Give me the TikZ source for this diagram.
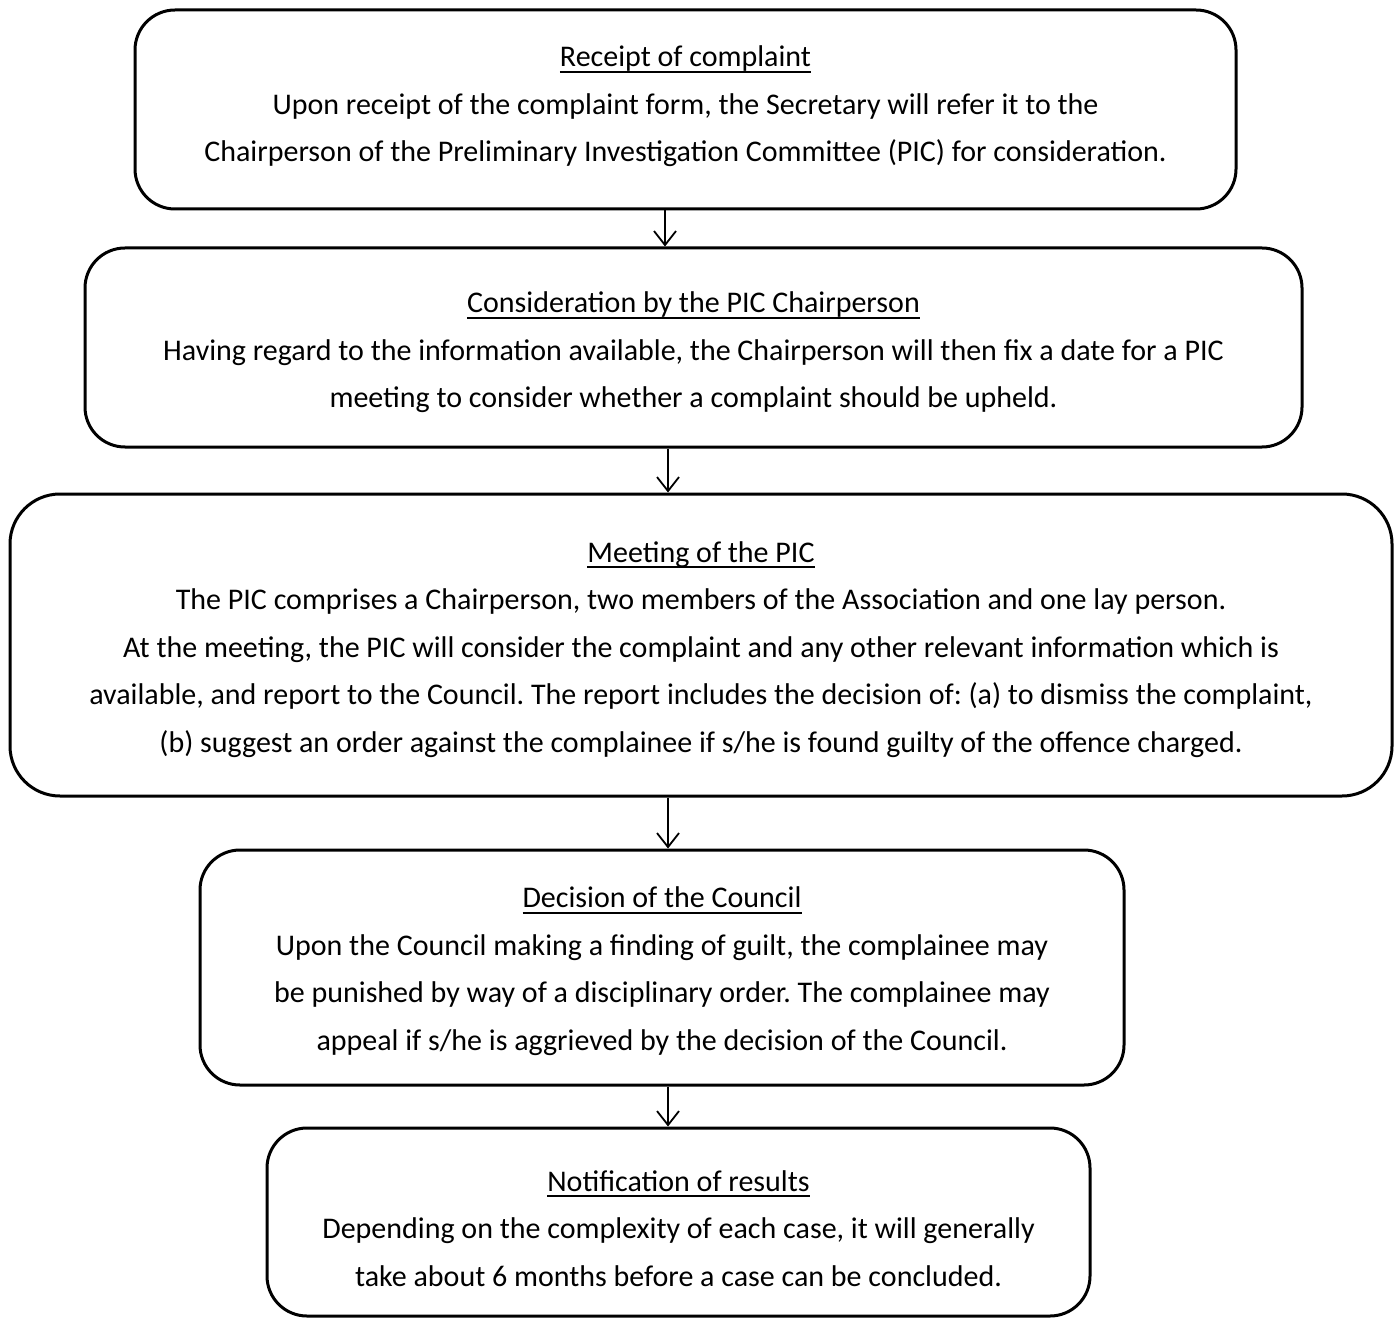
\documentclass[tikz,border=0pt]{standalone}
\usepackage{fontspec}
\setmainfont{Carlito}
\usepackage{tikz}
\usetikzlibrary{arrows.meta}
\frenchspacing

% underlined heading, and struts to move the text inside a box
\newcommand\ultitle[1]{\setbox0=\hbox{#1}\rlap{\rule[-3pt]{\wd0}{0.9pt}}\box0}
\newcommand\topstrut[1]{\rule{0pt}{#1}}
\newcommand\botstrut[1]{\rule[-#1]{0pt}{0pt}}

\tikzset{
    stage/.style={rectangle, draw, line width=1.5pt, rounded corners=20pt,
        align=center, inner sep=0pt,
        font=\fontsize{15}{23.75}\selectfont},
    flow/.style={draw, line width=0.9pt, -{Straight Barb[length=7pt,width=11pt,line width=0.9pt]}}
}

\begin{document}
\begin{tikzpicture}[x=0.5pt, y=-0.5pt]
    \useasboundingbox (0,0) rectangle (1395,1320);

    \node (receipt) [stage, minimum width=550.5pt, minimum height=99.5pt] at (685.5,109.5) {
        \ultitle{Receipt of complaint}\\
        Upon receipt of the complaint form, the Secretary will refer it to the\\
        Chairperson of the Preliminary Investigation Committee (PIC) for consideration.\botstrut{5.5pt}};

    \node (consider) [stage, minimum width=608.5pt, minimum height=99.5pt] at (693.5,347.5) {
        \topstrut{15.5pt}\ultitle{Consideration by the PIC Chairperson}\\
        Having regard to the information available, the Chairperson will then fix a date for a PIC\\
        meeting to consider whether a complaint should be upheld.};

    \node (meeting) [stage, rounded corners=25pt, minimum width=691pt, minimum height=151pt] at (701,645) {
        \topstrut{14.75pt}\ultitle{Meeting of the PIC}\\
        The PIC comprises a Chairperson, two members of the Association and one lay person.\\
        At the meeting, the PIC will consider the complaint and any other relevant information which is\\
        available, and report to the Council. The report includes the decision of: (a) to dismiss the complaint,\\
        (b) suggest an order against the complainee if s/he is found guilty of the offence charged.};

    \node (council) [stage, minimum width=462pt, minimum height=117.5pt] at (662,967.5) {
        \topstrut{14.25pt}\ultitle{Decision of the Council}\\
        Upon the Council making a finding of guilt, the complainee may\\
        be punished by way of a disciplinary order. The complainee may\\
        appeal if s/he is aggrieved by the decision of the Council.};

    \node (notify) [stage, minimum width=411.5pt, minimum height=94pt] at (678.5,1222) {
        \topstrut{16.75pt}\ultitle{Notification of results}\\
        Depending on the complexity of each case, it will generally\\
        take about 6 months before a case can be concluded.};

    \coordinate (xa) at (665,0);
    \coordinate (xb) at (668,0);

    \draw[flow] (receipt.south -| xa) -- (consider.north -| xa);
    \draw[flow] (consider.south -| xb) -- (meeting.north -| xb);
    \draw[flow] (meeting.south -| xb) -- (council.north -| xb);
    \draw[flow] (council.south -| xb) -- (notify.north -| xb);
\end{tikzpicture}
\end{document}
